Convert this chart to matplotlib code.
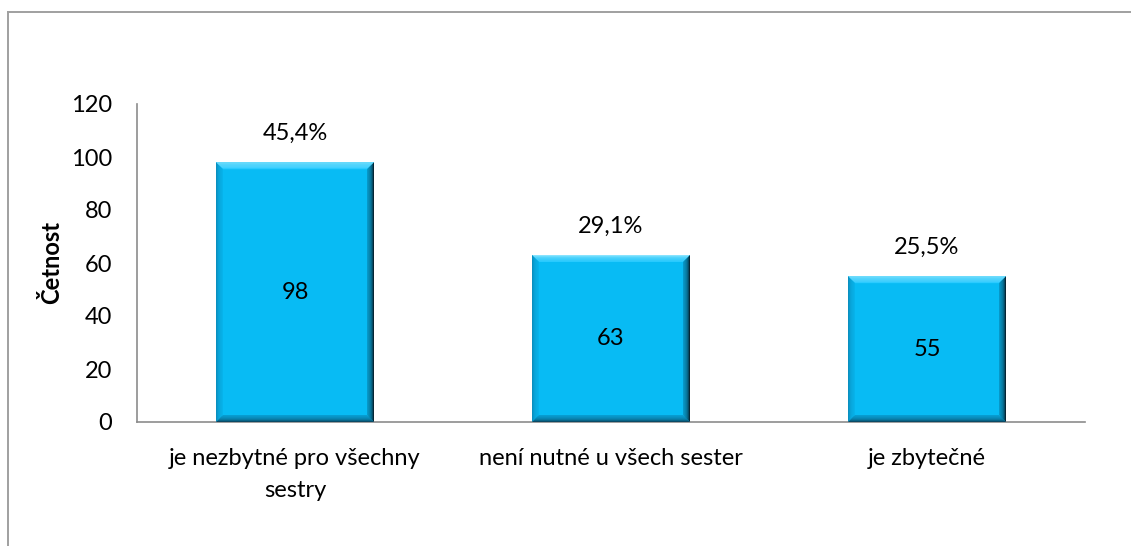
import numpy as np
import matplotlib as mpl
mpl.use("Agg")
import matplotlib.pyplot as plt
from matplotlib.patches import Polygon
from matplotlib.lines import Line2D
from matplotlib.colors import to_rgb

mpl.rcParams["font.family"] = ["Lato", "DejaVu Sans"]

categories = ["je nezbytné pro všechny\nsestry", "není nutné u všech sester", "je zbytečné"]
counts = [98, 63, 55]
percents = [45.4, 29.1, 25.5]
yticks = [0, 20, 40, 60, 80, 100, 120]

FACE = "#08BBF4"
# (outer colour, inner colour) for each bevel side
TOP = ("#8FE6FF", "#2CCBFF")
LEFT = ("#0A8FBF", "#07B2EA")
RIGHT = ("#062635", "#0796C6")
BOTTOM = ("#0A4A66", "#0799CC")
AXIS = "#8C8C8C"
FS = 17


def mix(c1, c2, t):
    a, b = np.array(to_rgb(c1)), np.array(to_rgb(c2))
    return tuple(a + (b - a) * t)


fig = plt.figure(figsize=(11.31, 5.46), dpi=100)
# outer chart frame (top and left edges)
for xs, ys in [([8, 8], [0, 534]), ([8, 1131], [534, 534])]:
    fig.add_artist(Line2D([v / 1131 for v in xs], [v / 546 for v in ys],
                          transform=fig.transFigure, color="#A0A0A0", lw=1.4))
ax = fig.add_axes([137 / 1131, 124 / 546, 948 / 1131, 318 / 546])

x = np.arange(len(categories))
width = 0.5
bars = ax.bar(x, counts, width=width, color=FACE, zorder=2)

# bevelled edges, shaded in bands from the outer edge inwards
bx = 0.022
by = 2.6
nb = 6
for b in bars:
    x0, y0 = b.get_x(), b.get_y()
    x1, y1 = x0 + b.get_width(), y0 + b.get_height()
    for k in range(nb):
        s0, s1 = k / nb, (k + 1) / nb
        t = k / (nb - 1)
        ox0, oy0, ix0, iy0 = bx * s0, by * s0, bx * s1, by * s1
        sides = [
            ([(x0 + ox0, y1 - oy0), (x1 - ox0, y1 - oy0), (x1 - ix0, y1 - iy0), (x0 + ix0, y1 - iy0)], TOP),
            ([(x0 + ox0, y0 + oy0), (x0 + ox0, y1 - oy0), (x0 + ix0, y1 - iy0), (x0 + ix0, y0 + iy0)], LEFT),
            ([(x1 - ox0, y0 + oy0), (x1 - ox0, y1 - oy0), (x1 - ix0, y1 - iy0), (x1 - ix0, y0 + iy0)], RIGHT),
            ([(x0 + ox0, y0 + oy0), (x1 - ox0, y0 + oy0), (x1 - ix0, y0 + iy0), (x0 + ix0, y0 + iy0)], BOTTOM),
        ]
        for pts, (c_out, c_in) in sides:
            ax.add_patch(Polygon(pts, closed=True, facecolor=mix(c_out, c_in, t),
                                 edgecolor="none", antialiased=True, zorder=3))

for xi, c, p in zip(x, counts, percents):
    ax.text(xi, c / 2, str(c), ha="center", va="center", fontsize=FS, zorder=5)
    ax.text(xi, c + 11, f"{p:.1f}%".replace(".", ","), ha="center", va="center",
            fontsize=FS)

ax.set_xlim(-0.5, len(categories) - 0.5)
ax.set_ylim(0, 120)
ax.set_yticks(yticks)
ax.set_yticklabels([str(t) for t in yticks], fontsize=FS)
ax.set_xticks(x)
ax.set_xticklabels(categories, fontsize=FS, linespacing=1.65, va="top")
ax.tick_params(axis="both", length=0)
ax.tick_params(axis="x", pad=19)
ax.tick_params(axis="y", pad=18)
for side in ["top", "right"]:
    ax.spines[side].set_visible(False)
for side in ["left", "bottom"]:
    ax.spines[side].set_color(AXIS)
    ax.spines[side].set_linewidth(1.2)
ax.set_ylabel("Četnost", fontsize=FS, fontweight="bold")
ax.yaxis.set_label_coords(-0.078, 0.5)

fig.savefig("out.png", dpi=100)
